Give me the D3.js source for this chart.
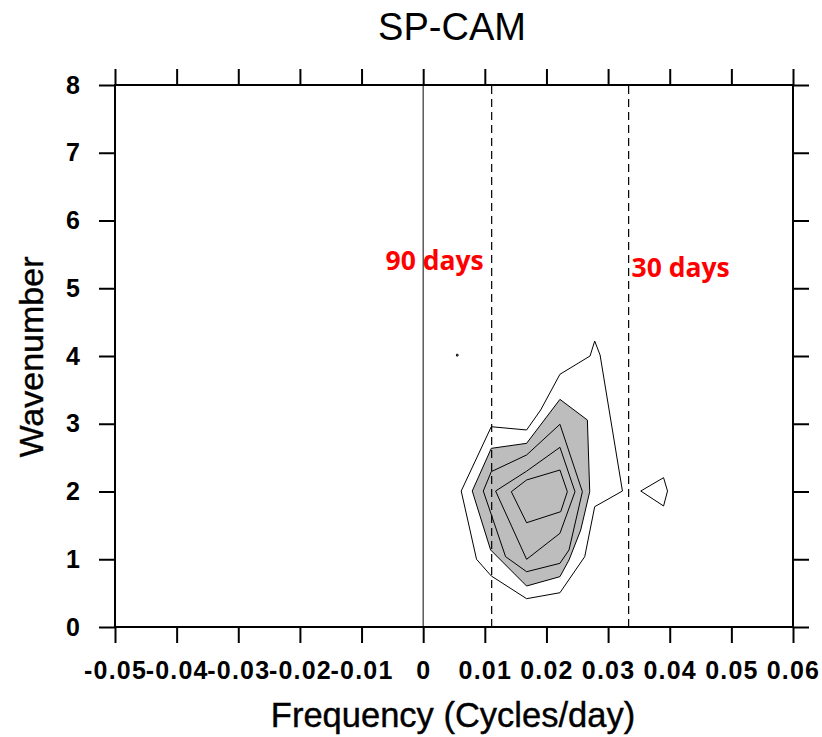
<!DOCTYPE html>
<html>
<head>
<meta charset="utf-8">
<script src="https://cdn.jsdelivr.net/npm/d3@7"></script>
<style>
  html, body { margin: 0; padding: 0; background: #fff; }
  svg { display: block; }
</style>
</head>
<body>
<svg id="chart" width="822" height="737"></svg>
<script>
// Axis ticks
const freqTicks = [-0.05, -0.04, -0.03, -0.02, -0.01, 0, 0.01, 0.02, 0.03, 0.04, 0.05, 0.06];
const waveTicks = [0, 1, 2, 3, 4, 5, 6, 7, 8];

// Period reference lines (cycles/day)
const periodLines = [
  { freq: 1 / 90, label: "90 days", labelFreq: -0.0061, labelWave: 5.27 },
  { freq: 1 / 30, label: "30 days", labelFreq: 0.0338, labelWave: 5.17 }
];

// Power contours, [frequency, wavenumber] rings, lowest level first
const contourOuter = [
  [0.01105, 2.956], [0.01678, 2.908], [0.01906, 3.203], [0.02219, 3.730],
  [0.02707, 4.000], [0.02783, 4.220], [0.02870, 4.015], [0.03233, 2.007],
  [0.02783, 1.776], [0.02621, 1.038], [0.02219, 0.506], [0.01678, 0.418],
  [0.01105, 0.753], [0.00866, 0.999], [0.00617, 2.007]
];
const contourShaded = [
  [0.01105, 2.637], [0.01678, 2.711], [0.02219, 3.360], [0.02664, 3.055],
  [0.02702, 1.997], [0.02556, 1.432], [0.02366, 0.989], [0.02219, 0.743],
  [0.01678, 0.605], [0.01094, 1.137], [0.00796, 2.007]
];
const contourThird = [
  [0.01105, 2.293], [0.01678, 2.539], [0.02219, 2.992], [0.02583, 1.997],
  [0.02366, 1.137], [0.02219, 0.940], [0.01678, 0.816], [0.01337, 1.038],
  [0.00975, 2.007]
];
const contourFourth = [
  [0.01175, 2.007], [0.01678, 2.300], [0.02219, 2.652], [0.02463, 1.997],
  [0.02219, 1.383], [0.01678, 0.999]
];
const contourInner = [
  [0.01430, 1.997], [0.01678, 2.170], [0.02219, 2.317], [0.02339, 1.997],
  [0.02231, 1.702], [0.01678, 1.539]
];
const contourIsland = [
  [0.03530, 2.007], [0.03900, 2.204], [0.03964, 2.007], [0.03900, 1.786]
];
const contourSpeck = [
  [0.00540, 4.025], [0.00565, 4.025], [0.00565, 4.000], [0.00540, 4.000]
];

const svg = d3.select("#chart");
const mLeft = 115, mRight = 793, mTop = 85, mBottom = 627;

const x = d3.scaleLinear().domain([-0.05, 0.06]).range([mLeft, mRight]);
const y = d3.scaleLinear().domain([0, 8]).range([mBottom, mTop]);

// Plain hyphen for negative tick labels
const fmt = d => d === 0 ? "0" : (d < 0 ? "-" : "") + Math.abs(d).toFixed(2);
const sansFont = "'Liberation Sans', Arial, Helvetica, sans-serif";

// Shaded region
const ringPath = d3.line().x(d => x(d[0])).y(d => y(d[1])).curve(d3.curveLinearClosed);
const plot = svg.append("g");
plot.append("path").attr("d", ringPath(contourShaded))
  .attr("fill", "#bdbdbd").attr("stroke", "none");

// Contour outlines
[contourOuter, contourShaded, contourThird, contourFourth, contourInner, contourIsland, contourSpeck]
  .forEach(ring => {
    plot.append("path").attr("d", ringPath(ring))
      .attr("fill", "none").attr("stroke", "#000").attr("stroke-width", 1)
      .attr("stroke-linejoin", "miter");
  });

// Zero frequency line
plot.append("line")
  .attr("x1", x(0)).attr("x2", x(0)).attr("y1", y(0)).attr("y2", y(8))
  .attr("stroke", "#333").attr("stroke-width", 1.2);

// Period lines and labels
periodLines.forEach(p => {
  plot.append("line")
    .attr("x1", x(p.freq)).attr("x2", x(p.freq)).attr("y1", y(0)).attr("y2", y(8))
    .attr("stroke", "#000").attr("stroke-width", 1.2)
    .attr("stroke-dasharray", "8,5");
  svg.append("text")
    .attr("x", x(p.labelFreq)).attr("y", y(p.labelWave))
    .attr("font-family", "'Open Sans', sans-serif")
    .attr("font-weight", "bold").attr("font-size", 26.5)
    .attr("fill", "#ff0000")
    .text(p.label);
});

// Axes (ticks outward on all sides)
const tickLen = 16;
const axB = d3.axisBottom(x).tickValues(freqTicks).tickSize(tickLen).tickPadding(18).tickFormat(fmt);
const axT = d3.axisTop(x).tickValues(freqTicks).tickSize(tickLen).tickFormat("");
const axL = d3.axisLeft(y).tickValues(waveTicks).tickSize(tickLen).tickPadding(18).tickFormat(d3.format("d"));
const axR = d3.axisRight(y).tickValues(waveTicks).tickSize(tickLen).tickFormat("");

function style(g) {
  g.select(".domain").remove();
  g.selectAll(".tick line").attr("stroke", "#000").attr("stroke-width", 2);
  g.selectAll(".tick text")
    .attr("fill", "#000")
    .attr("font-family", sansFont)
    .attr("font-weight", "bold")
    .attr("font-size", 25)
    .attr("letter-spacing", "1.2px");
}
svg.append("g").attr("transform", `translate(0,${mBottom})`).call(axB).call(style);
svg.append("g").attr("transform", `translate(0,${mTop})`).call(axT).call(style);
svg.append("g").attr("transform", `translate(${mLeft},0)`).call(axL).call(style);
svg.append("g").attr("transform", `translate(${mRight},0)`).call(axR).call(style);

// Frame
svg.append("rect")
  .attr("x", mLeft).attr("y", mTop).attr("width", mRight - mLeft).attr("height", mBottom - mTop)
  .attr("fill", "none").attr("stroke", "#000").attr("stroke-width", 2);

// Titles
svg.append("text")
  .attr("x", 452).attr("y", 40).attr("text-anchor", "middle")
  .attr("font-family", sansFont).attr("font-size", 38)
  .text("SP-CAM");

svg.append("text")
  .attr("x", 453).attr("y", 727).attr("text-anchor", "middle")
  .attr("font-family", sansFont).attr("font-size", 34.5)
  .attr("stroke", "#000").attr("stroke-width", 0.4)
  .text("Frequency (Cycles/day)");

svg.append("text")
  .attr("transform", "translate(43,357) rotate(-90)")
  .attr("text-anchor", "middle")
  .attr("font-family", sansFont).attr("font-size", 34)
  .attr("stroke", "#000").attr("stroke-width", 0.4)
  .text("Wavenumber");
</script>
</body>
</html>
